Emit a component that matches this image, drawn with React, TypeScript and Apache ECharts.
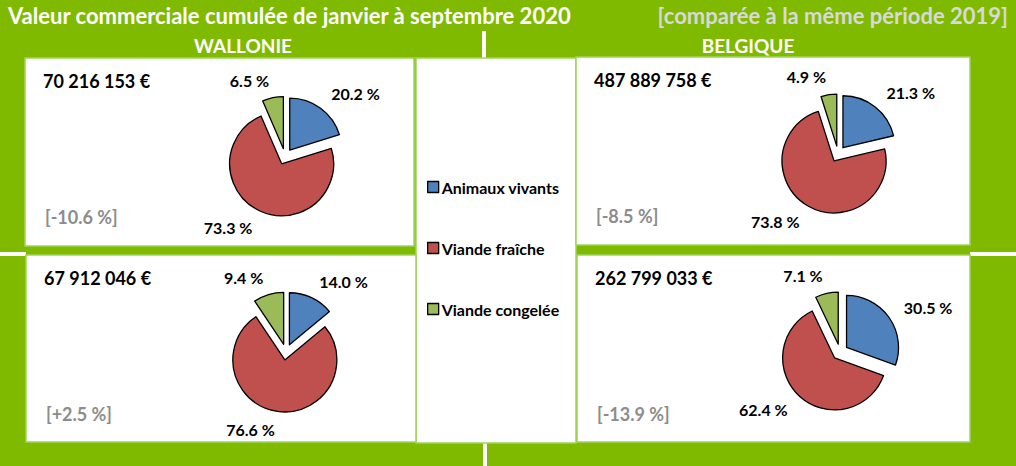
import React, { useEffect, useRef } from "react";
import * as echarts from "echarts";

// ---- data ----
const categories = ["Animaux vivants", "Viande fraîche", "Viande congelée"];
const colors = ["#4f81bd", "#c0504d", "#9bbb59"];
const regionNames = ["WALLONIE", "BELGIQUE"];
const title = "Valeur commerciale cumulée de janvier à septembre 2020";
const subtitle = "[comparée à la même période 2019]";
// panels order: top-left (Wallonie), top-right (Belgique), bottom-left (Wallonie), bottom-right (Belgique)
const panelTotals = [70216153, 487889758, 67912046, 262799033];
const panelChanges = [-10.6, -8.5, 2.5, -13.9];
const sharesTopWallonie = [20.2, 73.3, 6.5];
const sharesTopBelgique = [21.3, 73.8, 4.9];
const sharesBottomWallonie = [14.0, 76.6, 9.4];
const sharesBottomBelgique = [30.5, 62.4, 7.1];
const panelShares = [sharesTopWallonie, sharesTopBelgique, sharesBottomWallonie, sharesBottomBelgique];

// ---- layout (pixels) ----
const FONT = "Lato";
const panels = [
  { x: 25, y: 58, w: 389, h: 188 },
  { x: 576, y: 57, w: 394, h: 188 },
  { x: 26, y: 255, w: 390, h: 187 },
  { x: 577, y: 255, w: 393, h: 187 },
];
const pieCenters = [
  [285, 156.5],
  [838, 154],
  [286, 352],
  [840, 352],
];

const fmtTotal = (n: number) => n.toString().replace(/\B(?=(\d{3})+(?!\d))/g, " ") + " €";
const fmtChange = (v: number) => `[${v > 0 ? "+" : ""}${v.toFixed(1)} %]`;

export default function App() {
  const ref = useRef<HTMLDivElement>(null);
  useEffect(() => {
    if (!ref.current) return;
    const chart = echarts.init(ref.current, null, { renderer: "svg" });

    const graphics: any[] = [];
    // white separators
    graphics.push({ type: "rect", shape: { x: 482, y: 31, width: 4, height: 27 }, style: { fill: "#fff" } });
    graphics.push({ type: "rect", shape: { x: 483, y: 443, width: 4, height: 23 }, style: { fill: "#fff" } });
    graphics.push({ type: "rect", shape: { x: 0, y: 252, width: 26, height: 4 }, style: { fill: "#fff" } });
    graphics.push({ type: "rect", shape: { x: 970, y: 252, width: 46, height: 4 }, style: { fill: "#fff" } });
    // middle legend box
    graphics.push({
      type: "rect",
      shape: { x: 416, y: 58, width: 160, height: 385 },
      style: { fill: "#fff", stroke: "#9fd35a", lineWidth: 1.5 },
    });
    panels.forEach((p, i) => {
      graphics.push({
        type: "rect",
        shape: { x: p.x, y: p.y, width: p.w, height: p.h },
        style: { fill: "#fff", stroke: "#9fd35a", lineWidth: 1.5 },
      });
      graphics.push({
        type: "text",
        x: p.x + 18,
        y: p.y + 23,
        style: {
          text: fmtTotal(panelTotals[i]),
          font: `bold 18px ${FONT}`,
          fill: "#000",
          verticalAlign: "middle",
        },
      });
      graphics.push({
        type: "text",
        x: p.x + 20,
        y: p.y + 159,
        style: {
          text: fmtChange(panelChanges[i]),
          font: `bold 18px ${FONT}`,
          fill: "#8c8c8c",
          verticalAlign: "middle",
        },
      });
    });
    graphics.push({
      type: "text",
      x: 8,
      y: 15,
      style: { text: title, font: `bold 22px ${FONT}`, fill: "#fff", verticalAlign: "middle" },
    });
    graphics.push({
      type: "text",
      x: 1008,
      y: 15,
      style: { text: subtitle, font: `bold 22px ${FONT}`, fill: "#d9d9d9", verticalAlign: "middle", align: "right" },
    });
    [243, 748].forEach((cx, i) => {
      graphics.push({
        type: "text",
        x: cx,
        y: 45,
        style: {
          text: regionNames[i],
          font: `bold 19px ${FONT}`,
          fill: "#fff",
          align: "center",
          verticalAlign: "middle",
        },
      });
    });

    const series = panelShares.map((shares, i) => ({
      type: "pie",
      center: pieCenters[i],
      radius: 52,
      startAngle: 90,
      clockwise: true,
      selectedMode: "multiple",
      selectedOffset: 8,
      silent: true,
      avoidLabelOverlap: false,
      z: 10,
      itemStyle: { borderColor: "#000", borderWidth: 1.3 },
      label: {
        show: true,
        position: "outside",
        formatter: (p: any) => `${Number(p.value).toFixed(1)} %`,
        fontFamily: FONT,
        fontWeight: "bold",
        fontSize: 16,
        color: "#000",
        distanceToLabelLine: 0,
      },
      labelLine: { show: false, length: 18, length2: 0 },
      data: shares.map((v, k) => ({
        name: categories[k],
        value: v,
        selected: true,
        itemStyle: { color: colors[k] },
      })),
    }));

    chart.setOption({
      animation: false,
      backgroundColor: "#7fba00",
      color: colors,
      graphic: { elements: graphics },
      legend: {
        orient: "vertical",
        left: 427,
        top: 179,
        padding: 0,
        itemWidth: 11,
        itemHeight: 11,
        itemGap: 45,
        icon: "rect",
        data: categories,
        selectedMode: false,
        itemStyle: { borderColor: "#000", borderWidth: 1.3 },
        textStyle: { fontFamily: FONT, fontWeight: "bold", fontSize: 16, color: "#000", padding: [0, 0, 0, -2] },
        z: 20,
      },
      series,
    });
    return () => chart.dispose();
  }, []);
  return (
    <div
      ref={ref}
      style={{ position: "fixed", left: 0, top: 0, width: 1016, height: 466 }}
    />
  );
}
